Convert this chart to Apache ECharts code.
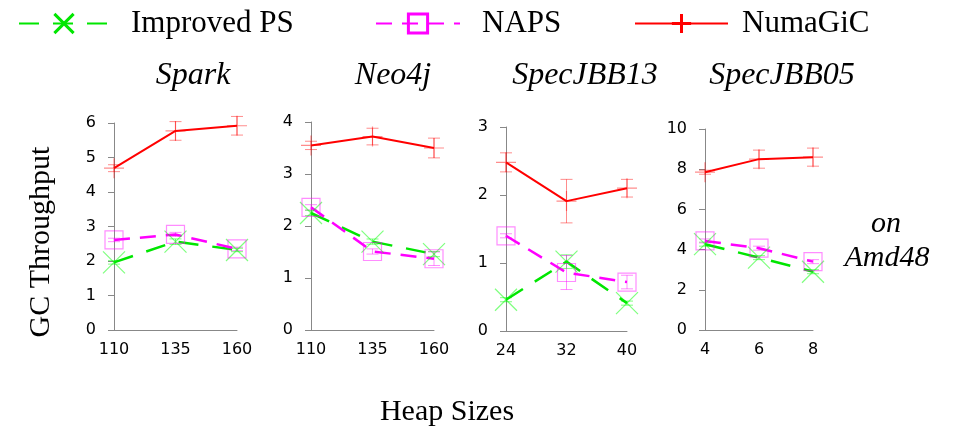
<!DOCTYPE html>
<html>
<head>
<meta charset="utf-8">
<script src="https://cdn.jsdelivr.net/npm/echarts@6/dist/echarts.min.js"></script>
<style>
html, body { margin: 0; padding: 0; background: #fff; }
#main { width: 955px; height: 432px; }
</style>
</head>
<body>
<div id="main"></div>
<script>
// series names and panel names
var seriesNames = ['Improved PS', 'NAPS', 'NumaGiC'];
var panelTitles = ['Spark', 'Neo4j', 'SpecJBB13', 'SpecJBB05'];

// heap sizes (x categories) per panel
var heapSpark = ['110', '135', '160'];
var heapNeo4j = ['110', '135', '160'];
var heapJbb13 = ['24', '32', '40'];
var heapJbb05 = ['4', '6', '8'];

// y axis ticks per panel
var yMaxes = [6, 4, 3, 10];
var ySteps = [1, 1, 1, 2];

// GC throughput: Spark
var psSpark = [1.96, 2.56, 2.32];
var napsSpark = [2.61, 2.77, 2.35];
var numaSpark = [4.69, 5.77, 5.92];
var psSparkErr = [0.05, 0.08, 0.05];
var napsSparkErr = [0.05, 0.06, 0.05];
var numaSparkErr = [0.1, 0.27, 0.27];

// Neo4j
var psNeo4j = [2.25, 1.70, 1.46];
var napsNeo4j = [2.36, 1.51, 1.37];
var numaNeo4j = [3.55, 3.72, 3.50];
var psNeo4jErr = [0.05, 0.05, 0.05];
var napsNeo4jErr = [0.05, 0.05, 0.13];
var numaNeo4jErr = [0.08, 0.16, 0.19];

// SpecJBB13
var psJbb13 = [0.46, 1.02, 0.41];
var napsJbb13 = [1.40, 0.86, 0.72];
var numaJbb13 = [2.48, 1.91, 2.10];
var psJbb13Err = [0.03, 0.1, 0.03];
var napsJbb13Err = [0.03, 0.25, 0.1];
var numaJbb13Err = [0.14, 0.32, 0.13];

// SpecJBB05
var psJbb05 = [4.27, 3.60, 2.90];
var napsJbb05 = [4.43, 4.07, 3.40];
var numaJbb05 = [7.85, 8.50, 8.60];
var psJbb05Err = [0.1, 0.1, 0.1];
var napsJbb05Err = [0.1, 0.1, 0.1];
var numaJbb05Err = [0.1, 0.45, 0.45];

var heaps = [heapSpark, heapNeo4j, heapJbb13, heapJbb05];
var values = [
    [psSpark, napsSpark, numaSpark],
    [psNeo4j, napsNeo4j, numaNeo4j],
    [psJbb13, napsJbb13, numaJbb13],
    [psJbb05, napsJbb05, numaJbb05]
];
var errors = [
    [psSparkErr, napsSparkErr, numaSparkErr],
    [psNeo4jErr, napsNeo4jErr, numaNeo4jErr],
    [psJbb13Err, napsJbb13Err, numaJbb13Err],
    [psJbb05Err, napsJbb05Err, numaJbb05Err]
];

// layout
var boxes = [
    {left: 114, top: 123, width: 123, height: 207},
    {left: 311, top: 122, width: 123, height: 208},
    {left: 506, top: 127, width: 121, height: 204},
    {left: 705, top: 129, width: 108, height: 201}
];
var titleX = [193, 393, 585, 782];
var legendSpots = [
    {left: 18, width: 90, pad: 17},
    {left: 375, width: 84, pad: 17},
    {left: 634, width: 93, pad: 9}
];

var looks = [
    {line: '#00e600', mark: 'rgba(0,255,0,0.5)', dash: [20, 14], width: 2.5,
     symbol: 'path://M0,0L10,10M10,0L0,10', size: 22},
    {line: '#ff00ff', mark: 'rgba(255,0,255,0.45)', dash: [16, 10], width: 2.5,
     symbol: 'rect', size: 18},
    {line: '#ff0000', mark: 'rgba(255,0,0,0.45)', dash: 'solid', width: 2,
     symbol: 'path://M0,5L10,5M5,0L5,10', size: 20}
];

var serif = 'Liberation Serif';
var sans = 'DejaVu Sans';

var chart = echarts.init(document.getElementById('main'));

// error bar with small caps
function errorBar(color) {
    return function (params, api) {
        var top = api.coord([api.value(0), api.value(2)]);
        var bot = api.coord([api.value(0), api.value(1)]);
        var st = {stroke: color, lineWidth: 1};
        var h = 6;
        return {
            type: 'group',
            children: [
                {type: 'line', shape: {x1: top[0], y1: top[1], x2: bot[0], y2: bot[1]}, style: st},
                {type: 'line', shape: {x1: top[0] - h, y1: top[1], x2: top[0] + h, y2: top[1]}, style: st},
                {type: 'line', shape: {x1: bot[0] - h, y1: bot[1], x2: bot[0] + h, y2: bot[1]}, style: st}
            ]
        };
    };
}

var grids = [], xAxes = [], yAxes = [], titles = [], series = [];

for (var i = 0; i < 4; i++) {
    grids.push(Object.assign({outerBoundsMode: 'none'}, boxes[i]));
    xAxes.push({
        type: 'category', gridIndex: i, data: heaps[i], boundaryGap: false,
        axisLine: {lineStyle: {color: '#888', width: 1}},
        axisTick: {show: false},
        axisLabel: {color: '#000', fontFamily: sans, fontSize: 16, margin: 12}
    });
    yAxes.push({
        type: 'value', gridIndex: i, min: 0, max: yMaxes[i], interval: ySteps[i],
        axisLine: {show: true, lineStyle: {color: '#888', width: 1}},
        axisTick: {show: true, length: 6, lineStyle: {color: '#888'}},
        axisLabel: {color: '#000', fontFamily: sans, fontSize: 16, margin: 18},
        splitLine: {show: false}
    });
    titles.push({
        text: panelTitles[i], left: titleX[i], top: 60, textAlign: 'center', padding: 0,
        textStyle: {fontFamily: serif, fontStyle: 'italic', fontWeight: 'normal', fontSize: 32, color: '#000'}
    });
    for (var s = 0; s < 3; s++) {
        var lk = looks[s];
        var errData = values[i][s].map(function (v, j) {
            return [j, v - errors[i][s][j], v + errors[i][s][j]];
        });
        series.push({
            name: seriesNames[s] + ' error', type: 'custom', xAxisIndex: i, yAxisIndex: i,
            renderItem: errorBar(lk.mark), data: errData, clip: false, silent: true, z: 1
        });
        series.push({
            name: seriesNames[s], type: 'line', xAxisIndex: i, yAxisIndex: i,
            data: values[i][s], clip: false, silent: true, z: 2,
            symbol: lk.symbol, symbolSize: lk.size,
            itemStyle: {color: 'rgba(0,0,0,0)', borderColor: lk.mark, borderWidth: 1.2},
            lineStyle: {color: lk.line, width: lk.width, type: lk.dash}
        });
    }
}

// one legend per entry so each sits where the reference has it
var legends = seriesNames.map(function (n, k) {
    return {
        left: legendSpots[k].left, top: 8, itemWidth: legendSpots[k].width, itemHeight: 24, padding: 0,
        data: [{name: n, itemStyle: {color: 'rgba(0,0,0,0)', borderColor: looks[k].line, borderWidth: 3}}],
        textStyle: {fontFamily: serif, fontSize: 31, color: '#000', padding: [0, 0, 0, legendSpots[k].pad]}
    };
});

var option = {
    animation: false,
    backgroundColor: '#fff',
    title: titles,
    legend: legends,
    grid: grids,
    xAxis: xAxes,
    yAxis: yAxes,
    series: series,
    graphic: [
        {type: 'text', x: 41, y: 242, rotation: Math.PI / 2,
         style: {text: 'GC Throughput', font: '30px "Liberation Serif"', fill: '#000',
                 textAlign: 'center', textVerticalAlign: 'middle'}},
        {type: 'text', x: 447, y: 412,
         style: {text: 'Heap Sizes', font: '30px "Liberation Serif"', fill: '#000',
                 textAlign: 'center', textVerticalAlign: 'middle'}},
        {type: 'text', x: 886, y: 224,
         style: {text: 'on', font: 'italic 30px "Liberation Serif"', fill: '#000',
                 textAlign: 'center', textVerticalAlign: 'middle'}},
        {type: 'text', x: 887, y: 258,
         style: {text: 'Amd48', font: 'italic 30px "Liberation Serif"', fill: '#000',
                 textAlign: 'center', textVerticalAlign: 'middle'}}
    ]
};

chart.setOption(option);
</script>
</body>
</html>
